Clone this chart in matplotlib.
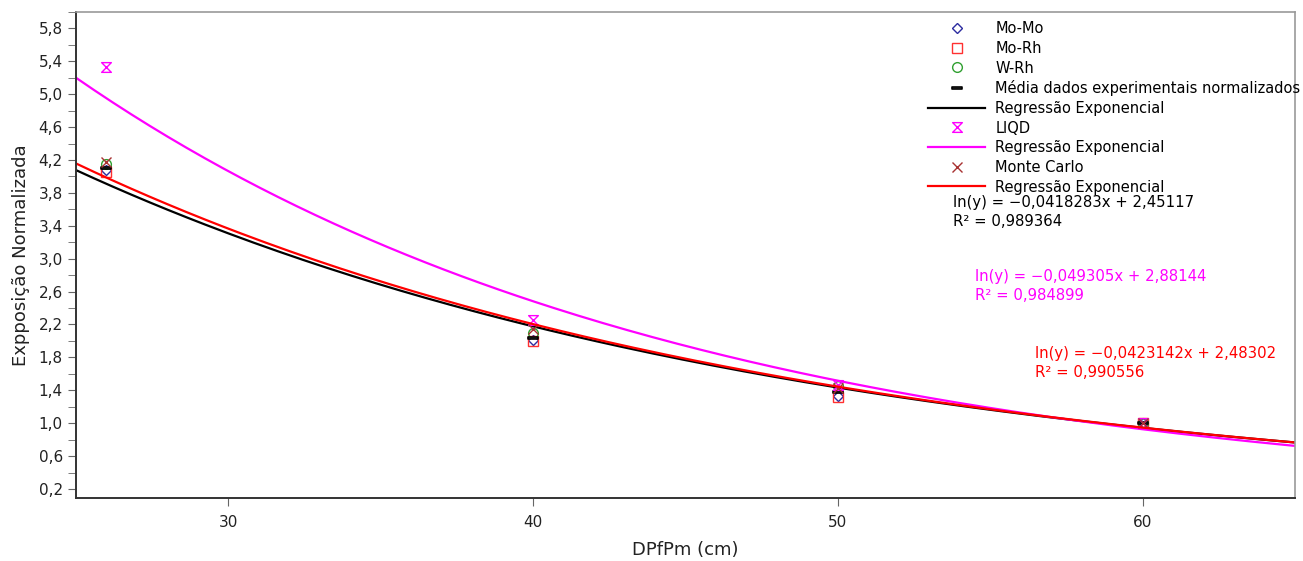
import numpy as np
import matplotlib
matplotlib.use("Agg")
import matplotlib.pyplot as plt
from matplotlib.path import Path
from matplotlib.ticker import FuncFormatter, MultipleLocator

# distancias (cm) e exposicao normalizada
dist = [26, 40, 50, 60]
mo_mo = [4.08, 2.01, 1.33, 1.00]
mo_rh = [4.05, 2.00, 1.32, 1.00]
w_rh = [4.15, 2.10, 1.45, 1.00]
media = [4.10, 2.04, 1.38, 1.00]
liqd = [5.33, 2.25, 1.47, 1.00]
monte_carlo = [4.18, 2.14, 1.43, 1.00]

# regressoes exponenciais: ln(y) = a*x + b
reg_names = ["media", "liqd", "mc"]
reg_a = [-0.0418283, -0.049305, -0.0423142]
reg_b = [2.45117, 2.88144, 2.48302]
reg_r2 = [0.989364, 0.984899, 0.990556]
reg_colors = ["black", "#ff00ff", "#ff0000"]

plt.rcParams['font.family'] = ['DejaVu Sans']

fig = plt.figure(figsize=(13.03, 5.61), dpi=100)
ax = fig.add_axes([0.0583, 0.1123, 0.9356, 0.8663])

hourglass = Path([(-1, 1), (1, 1), (-1, -1), (1, -1), (-1, 1)],
                 [Path.MOVETO, Path.LINETO, Path.LINETO, Path.LINETO, Path.CLOSEPOLY])
bar = Path([(-1, -0.3), (1, -0.3), (1, 0.3), (-1, 0.3), (-1, -0.3)],
           [Path.MOVETO, Path.LINETO, Path.LINETO, Path.LINETO, Path.CLOSEPOLY])

xs = np.linspace(25, 65, 200)

def curve(i):
    return np.exp(reg_a[i] * xs + reg_b[i])

ax.plot(dist, mo_mo, ls='none', marker='D', ms=5.5, mfc='none', mec='#2c2ca0', mew=1, label='Mo-Mo')
ax.plot(dist, mo_rh, ls='none', marker='s', ms=7, mfc='none', mec='#ff3030', mew=1, label='Mo-Rh')
ax.plot(dist, w_rh, ls='none', marker='o', ms=7, mfc='none', mec='#30a030', mew=1, label='W-Rh')
ax.plot(dist, media, ls='none', marker=bar, ms=7, mfc='#666666', mec='black', mew=1.2,
        label='Média dados experimentais normalizados')
ax.plot(xs, curve(0), color=reg_colors[0], lw=1.6, label='Regressão Exponencial')
ax.plot(dist, liqd, ls='none', marker=hourglass, ms=7, mfc='none', mec='#ff00ff', mew=1, label='LIQD')
ax.plot(xs, curve(1), color=reg_colors[1], lw=1.6, label='Regressão Exponencial')
ax.plot(dist, monte_carlo, ls='none', marker='x', ms=7, mec='#a83232', mew=1, label='Monte Carlo')
ax.plot(xs, curve(2), color=reg_colors[2], lw=1.6, label='Regressão Exponencial')

ax.set_xlim(25, 65)
ax.set_ylim(0.09, 6.0)

ax.set_xticks([30, 40, 50, 60])
ax.yaxis.set_major_locator(MultipleLocator(0.4, offset=0.2))
ax.yaxis.set_minor_locator(MultipleLocator(0.4))
ax.yaxis.set_major_formatter(FuncFormatter(lambda v, p: f"{v:.1f}".replace('.', ',')))
ax.tick_params(axis='both', direction='out', length=6, color='#666666', labelsize=11, labelcolor='#222222')
ax.tick_params(axis='y', which='minor', direction='out', length=6, color='#666666')
ax.tick_params(axis='x', pad=6)

for s in ['left', 'bottom']:
    ax.spines[s].set_color('#333333')
    ax.spines[s].set_linewidth(1.4)
for s in ['top', 'right']:
    ax.spines[s].set_color('#999999')
    ax.spines[s].set_linewidth(1.2)

ax.set_xlabel('DPfPm (cm)', fontsize=13, color='#222222', labelpad=8)
ax.set_ylabel('Expposição Normalizada', fontsize=13, color='#222222', labelpad=6)

leg = ax.legend(loc='upper left', bbox_to_anchor=(0.699, 0.981), frameon=False,
                fontsize=10.5, handlelength=3.9, handletextpad=0.7, labelspacing=0.32,
                borderpad=0, borderaxespad=0)

def eq_text(i):
    a = f"{-reg_a[i]:.7g}".replace('.', ',')
    b = f"{reg_b[i]:.6g}".replace('.', ',')
    r2 = f"{reg_r2[i]:.6f}".replace('.', ',')
    return f"ln(y) = −{a}x + {b}\nR² = {r2}"

eq_pos = [(0.7195, 0.623), (0.7375, 0.471), (0.7867, 0.312)]
for i in range(3):
    ax.text(eq_pos[i][0], eq_pos[i][1], eq_text(i), transform=ax.transAxes,
            fontsize=10.7, color=reg_colors[i], va='top', ha='left', linespacing=1.3)

fig.savefig('out.png', dpi=100)
